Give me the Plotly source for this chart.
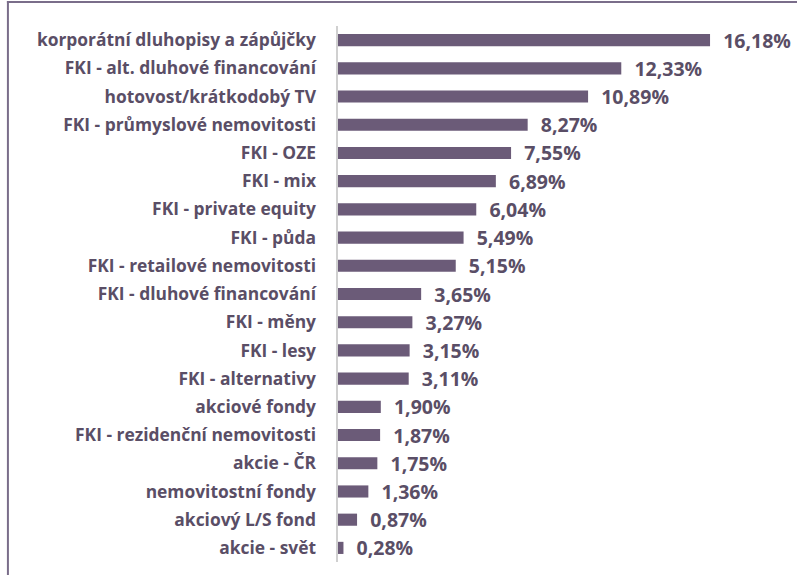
import plotly.graph_objects as go

categories = [
    "korporátní dluhopisy a zápůjčky",
    "FKI - alt. dluhové financování",
    "hotovost/krátkodobý TV",
    "FKI - průmyslové nemovitosti",
    "FKI - OZE",
    "FKI - mix",
    "FKI - private equity",
    "FKI - půda",
    "FKI - retailové nemovitosti",
    "FKI - dluhové financování",
    "FKI - měny",
    "FKI - lesy",
    "FKI - alternativy",
    "akciové fondy",
    "FKI - rezidenční nemovitosti",
    "akcie - ČR",
    "nemovitostní fondy",
    "akciový L/S fond",
    "akcie - svět",
]
values = [16.18, 12.33, 10.89, 8.27, 7.55, 6.89, 6.04, 5.49, 5.15, 3.65,
          3.27, 3.15, 3.11, 1.90, 1.87, 1.75, 1.36, 0.87, 0.28]
labels = ["\u00a0\u00a0" + f"{v:.2f}%".replace(".", ",") for v in values]

W, H = 797, 575
bar_color = "#6b5b78"
text_color = "#5a4e66"
border_color = "#7a6d8a"
font_family = "'Open Sans', sans-serif"

fig = go.Figure(go.Bar(
    x=values, y=categories, orientation="h",
    marker=dict(color=bar_color, line=dict(width=0)),
    text=labels, textposition="outside", cliponaxis=False,
    constraintext="none",
    textfont=dict(family=font_family, size=19.5, color=text_color, weight="bold"),
    width=0.43,
))

l, t, b = 337, 26, 13
xmax = 18
plot_w = 23.05 * xmax
r = W - l - plot_w
plot_h = H - t - b

def px_x(x):
    return (x - l) / plot_w

def px_y(y):
    return 1 + (t - y) / plot_h

fig.update_layout(
    width=W, height=H,
    margin=dict(l=l, r=r, t=t, b=b, autoexpand=False),
    paper_bgcolor="white", plot_bgcolor="white",
    showlegend=False,
    xaxis=dict(range=[0, xmax], visible=False, fixedrange=True, automargin=False),
    yaxis=dict(
        autorange="reversed", showgrid=False, zeroline=False,
        showline=False, ticks="", ticklabelstandoff=20, automargin=False,
        fixedrange=True,
        tickfont=dict(family=font_family, size=17.4, color=text_color, weight="bold"),
    ),
    shapes=[
        dict(type="line", xref="paper", yref="paper", x0=0, x1=0, y0=0, y1=1,
             line=dict(color="#d0d0d0", width=2)),
        dict(type="rect", xref="paper", yref="paper", layer="above",
             x0=px_x(7), x1=px_x(9), y0=px_y(H + 5), y1=px_y(1),
             fillcolor=border_color, line=dict(width=0)),
        dict(type="rect", xref="paper", yref="paper", layer="above",
             x0=px_x(7), x1=px_x(W), y0=px_y(3), y1=px_y(1),
             fillcolor=border_color, line=dict(width=0)),
    ],
)

fig.write_html("out.html", config={"displayModeBar": False},
               post_script="document.body.style.margin='0';document.body.style.overflow='hidden';")
